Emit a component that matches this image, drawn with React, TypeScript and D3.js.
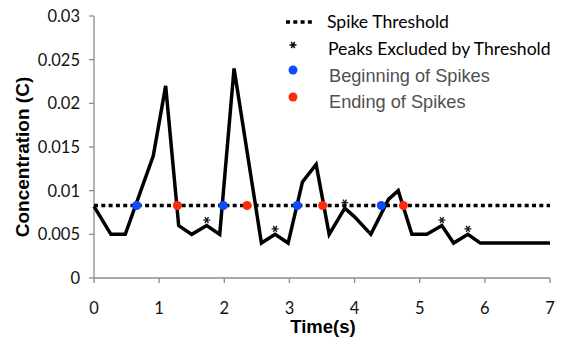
import React from "react";
import * as d3 from "d3";

const times = [0, 0.26, 0.48, 0.91, 1.1, 1.3, 1.5, 1.73, 1.93, 2.15, 2.57, 2.78, 2.98, 3.2, 3.41, 3.61, 3.85, 4.0, 4.25, 4.52, 4.67, 4.88, 5.11, 5.34, 5.52, 5.74, 5.93, 7];
const concentration = [0.0082, 0.005, 0.005, 0.014, 0.022, 0.006, 0.005, 0.006, 0.005, 0.024, 0.004, 0.005, 0.004, 0.011, 0.013, 0.005, 0.008, 0.007, 0.005, 0.009, 0.01, 0.005, 0.005, 0.006, 0.004, 0.005, 0.004, 0.004];
const threshold = 0.0083;
const spikeStarts = [0.655, 1.985, 3.12, 4.41];
const spikeEnds = [1.28, 2.35, 3.51, 4.75];
const excludedPeaks = [
  { t: 1.73, v: 0.006 },
  { t: 2.78, v: 0.005 },
  { t: 3.85, v: 0.008 },
  { t: 5.34, v: 0.006 },
  { t: 5.74, v: 0.005 },
];
const xTicks = [0, 1, 2, 3, 4, 5, 6, 7];
const yTicks = [0, 0.005, 0.01, 0.015, 0.02, 0.025, 0.03];
const legendLabels = ["Spike Threshold", "Peaks Excluded by Threshold", "Beginning of Spikes", "Ending of Spikes"];

const W = 561, H = 337;
const BLUE = "#0b4dff";
const RED = "#ff2a0a";
const AXIS = "#8c8c8c";
const SANS = "'Liberation Sans', Arial, sans-serif";

export default function App() {
  const x = d3.scaleLinear().domain([0, 7]).range([94, 550]);
  const y = d3.scaleLinear().domain([0, 0.03]).range([278, 16]);
  const line = d3.line<number>().x((_, i) => x(times[i])).y((d) => y(d));
  const path = line(concentration) || "";
  const star = d3.symbol(d3.symbolAsterisk, 34)() || "";
  const tickFont = "Lato, 'Open Sans', sans-serif";

  return (
    <svg width={W} height={H} style={{ position: "absolute", left: 0, top: 0, background: "#fff" }}>
      {/* axes */}
      <line x1={x(0)} x2={x(0)} y1={y(0.03)} y2={y(0)} stroke={AXIS} strokeWidth={1.3} />
      <line x1={x(0)} x2={x(7)} y1={y(0)} y2={y(0)} stroke={AXIS} strokeWidth={1.3} />
      {yTicks.map((t) => (
        <g key={"y" + t}>
          <line x1={x(0) - 5} x2={x(0)} y1={y(t)} y2={y(t)} stroke={AXIS} strokeWidth={1.3} />
          <text x={80} y={y(t)} dy="0.36em" textAnchor="end" fontFamily={tickFont} fontSize={16.5} fill="#111">
            {t === 0 ? "0" : String(+t.toFixed(3))}
          </text>
        </g>
      ))}
      {xTicks.map((t) => (
        <g key={"x" + t}>
          <line x1={x(t)} x2={x(t)} y1={y(0)} y2={y(0) + 5} stroke={AXIS} strokeWidth={1.3} />
          <text x={x(t)} y={313.5} textAnchor="middle" fontFamily={tickFont} fontSize={16.5} fill="#111">
            {t}
          </text>
        </g>
      ))}
      <text x={323} y={333} textAnchor="middle" fontFamily={SANS} fontWeight="bold" fontSize={18.5} fill="#000">
        Time(s)
      </text>
      <text transform={`translate(29,157) rotate(-90)`} textAnchor="middle" fontFamily={SANS} fontWeight="bold" fontSize={19} fill="#000">
        Concentration (C)
      </text>

      {/* threshold */}
      <line x1={x(0)} x2={x(7)} y1={y(threshold)} y2={y(threshold)} stroke="#000" strokeWidth={3.5} strokeDasharray="4 3.3" />
      {/* concentration line */}
      <path d={path} fill="none" stroke="#000" strokeWidth={3.5} strokeLinejoin="miter" />
      {/* excluded peaks */}
      {excludedPeaks.map((p, i) => (
        <path key={"p" + i} d={star} transform={`translate(${x(p.t)},${y(p.v) - 5.5}) rotate(90)`} fill="none" stroke="#1a1a2a" strokeWidth={1.4} />
      ))}
      {spikeStarts.map((t, i) => (
        <circle key={"b" + i} cx={x(t)} cy={y(threshold)} r={4.5} fill={BLUE} />
      ))}
      {spikeEnds.map((t, i) => (
        <circle key={"r" + i} cx={x(t)} cy={y(threshold)} r={4.5} fill={RED} />
      ))}

      {/* legend */}
      <line x1={286} x2={315} y1={22} y2={22} stroke="#000" strokeWidth={3.5} strokeDasharray="4 3.3" />
      <path d={star} transform="translate(293,45) rotate(90)" fill="none" stroke="#000" strokeWidth={1.4} />
      <circle cx={293} cy={70} r={4.5} fill={BLUE} />
      <circle cx={293} cy={97} r={4.5} fill={RED} />
      <text x={327} y={28.3} fontFamily={tickFont} fontSize={17.6} fill="#000">{legendLabels[0]}</text>
      <text x={328} y={55} fontFamily={tickFont} fontSize={17.6} fill="#000">{legendLabels[1]}</text>
      <text x={329} y={81.7} fontFamily={SANS} fontSize={18.2} fill="#505050">{legendLabels[2]}</text>
      <text x={329} y={108.3} fontFamily={SANS} fontSize={18.2} fill="#505050">{legendLabels[3]}</text>
    </svg>
  );
}
